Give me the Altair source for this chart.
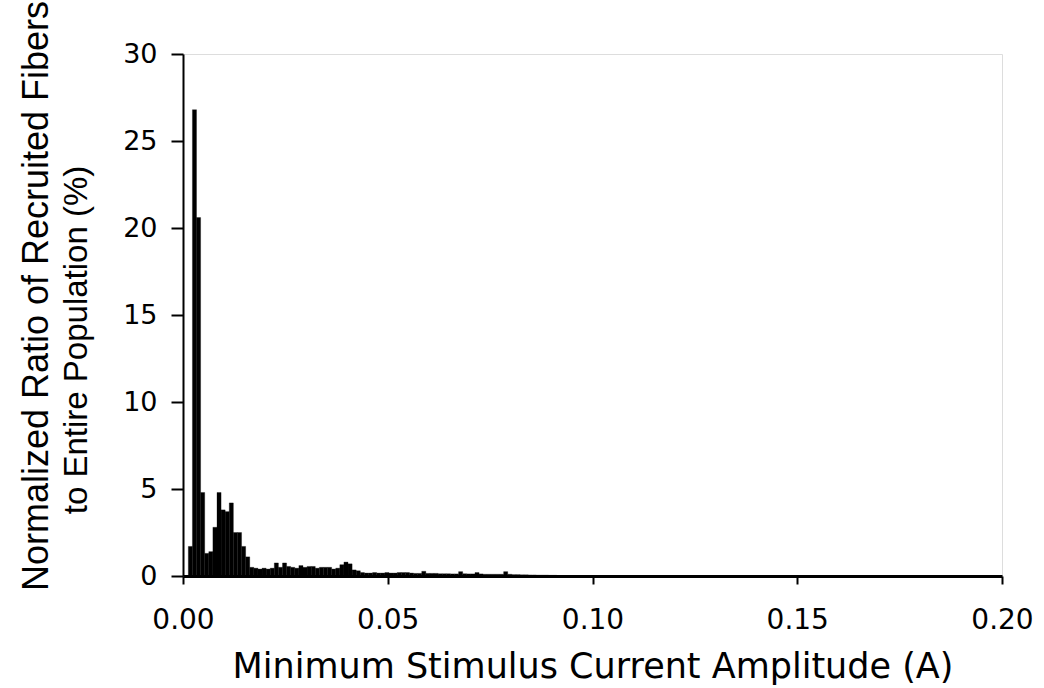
import altair as alt
import pandas as pd

# Histogram bins (A): first bin starts at 0.0013 A, each bin 0.001 A wide
BIN_START = 0.0013
BIN_WIDTH = 0.001
# Normalized ratio of recruited fibers (%) per bin
ratio = [1.7, 26.8, 20.6, 4.8, 1.3, 1.4, 2.8, 4.8, 3.8, 3.7,
         4.2, 2.5, 2.5, 1.7, 1.1, 0.5, 0.45, 0.4, 0.45, 0.4,
         0.45, 0.75, 0.5, 0.75, 0.55, 0.5, 0.45, 0.6, 0.5, 0.55,
         0.55, 0.45, 0.5, 0.5, 0.5, 0.4, 0.45, 0.65, 0.8, 0.7,
         0.35, 0.3, 0.2, 0.17, 0.17, 0.2, 0.17, 0.17, 0.2, 0.17,
         0.17, 0.2, 0.2, 0.2, 0.17, 0.15, 0.15, 0.27, 0.15, 0.15,
         0.15, 0.13, 0.13, 0.13, 0.12, 0.12, 0.25, 0.13, 0.12, 0.12,
         0.2, 0.12, 0.1, 0.1, 0.1, 0.1, 0.1, 0.25, 0.1, 0.08,
         0.08, 0.07, 0.07, 0.06, 0.06, 0.05, 0.05, 0.05, 0.04, 0.04]

x_ticks = [0.0, 0.05, 0.10, 0.15, 0.20]
y_ticks = [0, 5, 10, 15, 20, 25, 30]
x_title = "Minimum Stimulus Current Amplitude (A)"
y_title_1 = "Normalized Ratio of Recruited Fibers"
y_title_2 = "to Entire Population (%)"

starts = [round(BIN_START + BIN_WIDTH * i, 5) for i in range(len(ratio))]
df = pd.DataFrame({
    "start": starts,
    "end": [round(s + BIN_WIDTH, 5) for s in starts],
    "ratio": ratio,
})

FONT = "DejaVu Sans"
TFONT = "Liberation Sans"

bars = alt.Chart(df).mark_rect(color="black", stroke="black", strokeWidth=0.3).encode(
    x=alt.X("start:Q",
            scale=alt.Scale(domain=[0, 0.2], nice=False, zero=False),
            axis=alt.Axis(values=x_ticks, format=".2f", title=x_title,
                          labelFontSize=28, labelFont=FONT, labelColor="black",
                          labelFlush=False, labelOverlap=False,
                          labelPadding=22, tickSize=8, tickWidth=2, tickColor="black",
                          domainColor="black", domainWidth=3, grid=False,
                          titleFont=FONT, titleFontSize=35, titleFontWeight="normal",
                          titleColor="black", titleBaseline="alphabetic",
                          titleY=101, titleAnchor="middle")),
    x2="end:Q",
    y=alt.Y("ratio:Q",
            scale=alt.Scale(domain=[0, 30], nice=False),
            axis=alt.Axis(values=y_ticks, title=None,
                          labelFontSize=27, labelFont=FONT, labelColor="black",
                          labelFlush=False, labelOverlap=False,
                          labelPadding=14, tickSize=12, tickWidth=2, tickColor="black",
                          domainColor="black", domainWidth=2, grid=False)),
    y2=alt.datum(0),
)

t1 = alt.Chart(df.head(1)).mark_text(
    text=y_title_1, angle=270, font=TFONT, fontSize=36, color="black",
    align="center", baseline="middle").encode(
    x=alt.value(-146), y=alt.value(242))
t2 = alt.Chart(df.head(1)).mark_text(
    text=y_title_2, angle=270, font=TFONT, fontSize=33, color="black",
    align="center", baseline="middle").encode(
    x=alt.value(-106), y=alt.value(286))

chart = alt.layer(bars, t1, t2).properties(
    width=819, height=522,
    autosize=alt.AutoSizeParams(type="none"),
    padding={"left": 183, "top": 54, "right": 42, "bottom": 112},
).configure_view(stroke="black", strokeWidth=2).configure(background="white")

chart.save("out.html", embed_options={"renderer": "svg", "actions": False})
